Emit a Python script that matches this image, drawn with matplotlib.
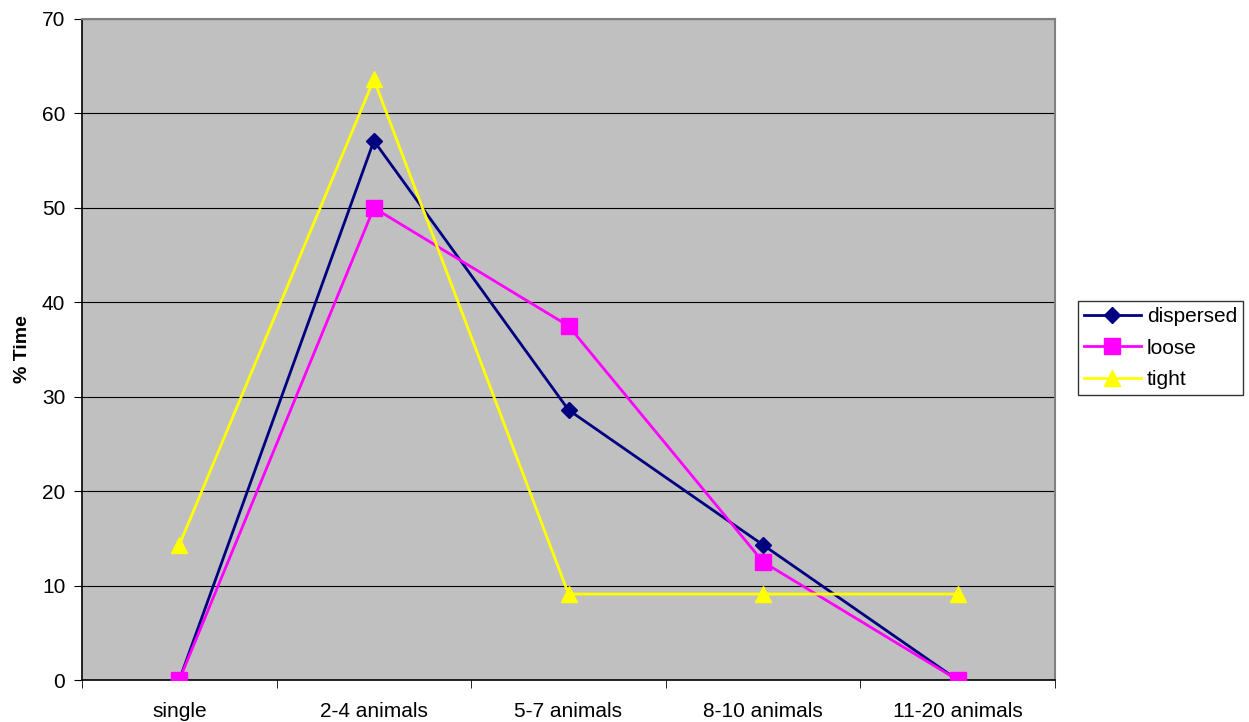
import matplotlib
matplotlib.use("Agg")
import matplotlib.pyplot as plt
from matplotlib.ticker import FixedLocator

plt.rcParams['font.family'] = ['Liberation Sans', 'DejaVu Sans']

categories = ["single", "2-4 animals", "5-7 animals", "8-10 animals", "11-20 animals"]
dispersed = [0, 57.1, 28.6, 14.3, 0]
loose = [0, 50, 37.5, 12.5, 0]
tight = [14.3, 63.6, 9.1, 9.1, 9.1]
yticks = [0, 10, 20, 30, 40, 50, 60, 70]

FS = 15

fig = plt.figure(figsize=(12.49, 7.22), dpi=100)
ax = fig.add_axes([82/1249, 1 - 680/722, (1055-82)/1249, (680-19)/722])
ax.set_facecolor('#c0c0c0')

x = list(range(len(categories)))
ax.plot(x, dispersed, color='#000080', marker='D', markersize=8, linewidth=2, label='dispersed', zorder=3)
ax.plot(x, loose, color='#ff00ff', marker='s', markersize=11, linewidth=2, label='loose', zorder=3)
ax.plot(x, tight, color='#ffff00', marker='^', markersize=12, linewidth=2, label='tight', zorder=3)

ax.set_xlim(-0.5, len(categories) - 0.5)
ax.set_ylim(0, 70)
ax.set_yticks(yticks)
ax.yaxis.grid(True, color='black', linewidth=0.8)
ax.set_axisbelow(True)

ax.set_xticks(x)
ax.set_xticklabels(categories, fontsize=FS)
ax.tick_params(axis='x', which='major', length=0, pad=16)
ax.xaxis.set_minor_locator(FixedLocator([i - 0.5 for i in range(len(categories) + 1)]))
ax.tick_params(axis='x', which='minor', length=6, direction='out', color='black')
ax.tick_params(axis='y', labelsize=FS, length=6, direction='out', pad=6)

for s in ['top', 'right']:
    ax.spines[s].set_color('#808080')
    ax.spines[s].set_linewidth(1.5)
for s in ['left', 'bottom']:
    ax.spines[s].set_color('black')
    ax.spines[s].set_linewidth(1.2)

ax.set_ylabel('% Time', fontsize=14, fontweight='bold', labelpad=8)

leg = ax.legend(loc='center left', bbox_to_anchor=(1078/1249, 1 - 348/722), bbox_transform=fig.transFigure,
                fontsize=FS, frameon=True, fancybox=False, edgecolor='black', borderpad=0.3,
                handlelength=2.7, labelspacing=0.6, handletextpad=0.3, borderaxespad=0)
leg.get_frame().set_linewidth(1.0)

fig.savefig('out.png', dpi=100)
